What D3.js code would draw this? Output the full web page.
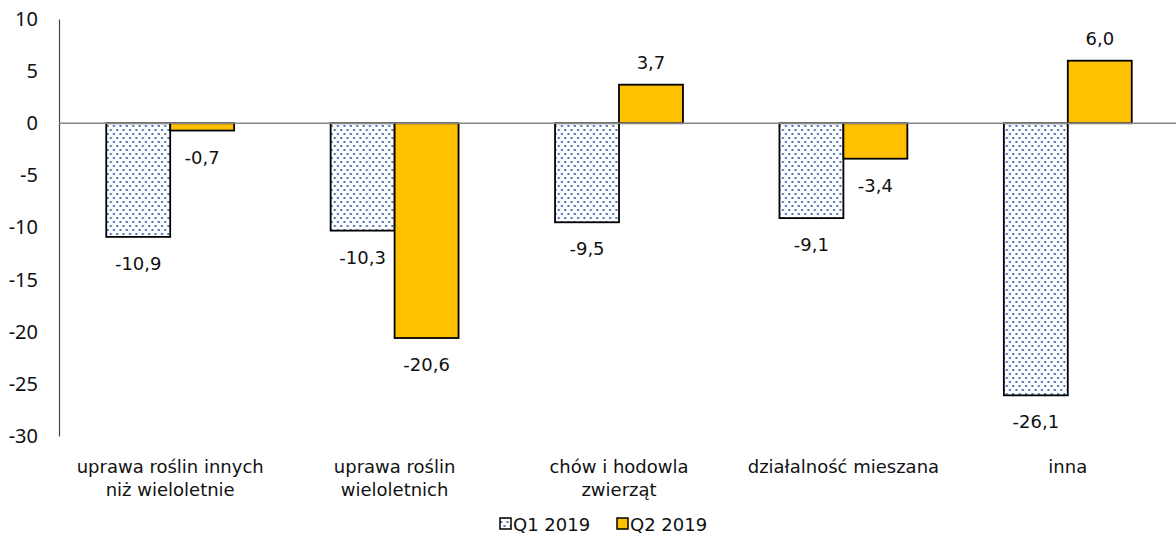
<!DOCTYPE html>
<html><head><meta charset="utf-8">
<script src="https://cdn.jsdelivr.net/npm/d3@7"></script>
<style>body{margin:0;background:#fff}svg{display:block}</style>
</head><body>
<svg id="c" width="1176" height="538"></svg>
<script>
const categories = [["uprawa roślin innych","niż wieloletnie"],["uprawa roślin","wieloletnich"],["chów i hodowla","zwierząt"],["działalność mieszana"],["inna"]];
const seriesNames = ["Q1 2019","Q2 2019"];
const q1 = [-10.9,-10.3,-9.5,-9.1,-26.1];
const q2 = [-0.7,-20.6,3.7,-3.4,6.0];
const yTicks = [10,5,0,-5,-10,-15,-20,-25,-30];

const svg = d3.select("#c");
const W=1176,H=538;
const font="DejaVu Sans";
const defs=svg.append("defs");
const pat=defs.append("pattern").attr("id","dots").attr("patternUnits","userSpaceOnUse").attr("width",6.4).attr("height",8);
pat.append("rect").attr("width",6.4).attr("height",8).attr("fill","#fff");
pat.append("rect").attr("x",1).attr("y",1).attr("width",2).attr("height",2).attr("fill","#4470b4");
pat.append("rect").attr("x",4.2).attr("y",5).attr("width",2).attr("height",2).attr("fill","#4470b4");

const y=d3.scaleLinear().domain([-30,10]).range([436,19]);
const x0=d3.scaleBand().domain(d3.range(categories.length)).range([58,1180]).paddingInner(0.43).paddingOuter(0.215);
const x1=d3.scaleBand().domain([0,1]).range([0,x0.bandwidth()]);
const fills=["url(#dots)","#FFC000"];

// y axis
const ya=svg.append("g").attr("transform","translate(59,0)").call(d3.axisLeft(y).tickValues(yTicks).tickSize(0).tickPadding(21).tickFormat(d=>d));
ya.select(".domain").attr("stroke","#444").attr("stroke-width",1.2);
ya.selectAll("text").attr("font-family","Noto Sans").attr("font-size",20).attr("fill","#111");

const data=[q1,q2];
const fmt=v=>v.toFixed(1).replace(".",",");
data.forEach((s,si)=>{
  const g=svg.append("g");
  s.forEach((v,i)=>{
    const bx=x0(i)+x1(si), bw=x1.bandwidth();
    g.append("rect").attr("x",bx).attr("width",bw)
      .attr("y",y(Math.max(0,v))).attr("height",Math.abs(y(v)-y(0)))
      .attr("fill",fills[si]).attr("stroke","#000").attr("stroke-width",1.8);
    g.append("text").attr("x",bx+bw/2).attr("y",v<0?y(v)+33:y(v)-16)
      .attr("text-anchor","middle").attr("font-family",font).attr("font-size",18).attr("fill","#111").text(fmt(v));
  });
});

// zero line
svg.append("line").attr("x1",59).attr("x2",W).attr("y1",y(0)).attr("y2",y(0)).attr("stroke","#888").attr("stroke-width",1.5);

// category labels
categories.forEach((lines,i)=>{
  const cx=x0(i)+x0.bandwidth()/2;
  const t=svg.append("text").attr("x",cx).attr("y",473).attr("text-anchor","middle")
    .attr("font-family",font).attr("font-size",18).attr("fill","#111");
  lines.forEach((l,j)=>t.append("tspan").attr("x",cx).attr("dy",j?23:0).text(l));
});

// legend
const lg=svg.append("g");
const lx=[500,617];
seriesNames.forEach((n,i)=>{
  lg.append("rect").attr("x",lx[i]).attr("y",518).attr("width",11).attr("height",11).attr("fill",fills[i]).attr("stroke","#000").attr("stroke-width",1.5);
  lg.append("text").attr("x",lx[i]+13).attr("y",531).attr("font-family",font).attr("font-size",18).attr("fill","#111").text(n);
});
</script>
</body></html>
